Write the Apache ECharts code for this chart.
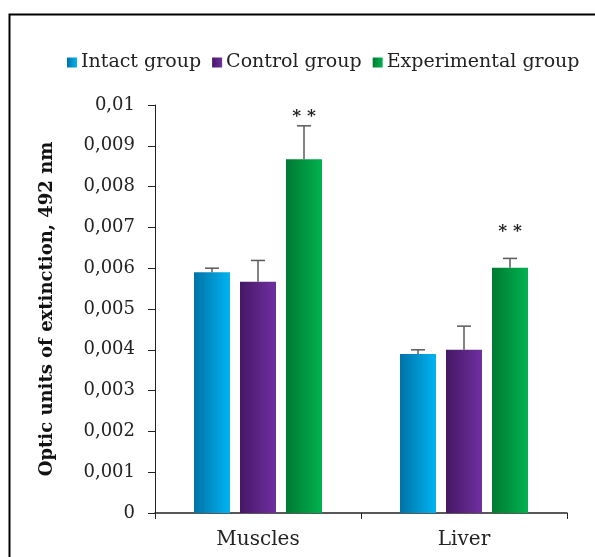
<!DOCTYPE html>
<html><head><meta charset="utf-8">
<script src="https://cdn.jsdelivr.net/npm/echarts@6/dist/echarts.min.js"></script>
<style>html,body{margin:0;padding:0;background:#fff}#c{width:595px;height:557px}</style>
</head><body><div id="c"></div>
<script>
const categories = ['Muscles', 'Liver'];
const seriesNames = ['Intact group', 'Control group', 'Experimental group'];
const intact = [0.0059, 0.0039];
const control = [0.00567, 0.004];
const experimental = [0.00867, 0.00601];
const intactErr = [0.0001, 0.0001];
const controlErr = [0.00052, 0.00058];
const experimentalErr = [0.00082, 0.00023];
const signifText = ['* *', '* *'];
const signifLevel = [0.00972, 0.0069];
const yTicks = ['0', '0,001', '0,002', '0,003', '0,004', '0,005', '0,006', '0,007', '0,008', '0,009', '0,01'];

const values = [intact, control, experimental];
const errs = [intactErr, controlErr, experimentalErr];
const gradients = [['#0072a6', '#00b4f2'], ['#461766', '#7030a0'], ['#007a33', '#00b24f']];
const font = '"DejaVu Serif", "Liberation Serif", serif';

const chart = echarts.init(document.getElementById('c'));
const barW = 36, gap = 10;
const series = [];
values.forEach((v, i) => {
  series.push({
    name: seriesNames[i], type: 'bar', data: v, barWidth: barW, barGap: (gap / barW * 100) + '%',
    itemStyle: {
      color: new echarts.graphic.LinearGradient(0, 0, 1, 0, [
        { offset: 0, color: gradients[i][0] }, { offset: 1, color: gradients[i][1] }])
    },
    z: 2
  });
});
values.forEach((v, i) => {
  series.push({
    type: 'custom', name: seriesNames[i] + ' err',
    data: v.map((val, j) => [j, val, val + errs[i][j]]),
    z: 3,
    renderItem: function (params, api) {
      const off = (i - 1) * (barW + gap);
      const base = api.coord([api.value(0), api.value(1)]);
      const top = api.coord([api.value(0), api.value(2)]);
      const x = base[0] + off;
      return { type: 'group', children: [
        { type: 'line', shape: { x1: x, y1: base[1], x2: x, y2: top[1] }, style: { stroke: '#5a5a5a', lineWidth: 1.5 } },
        { type: 'line', shape: { x1: x - 7, y1: top[1], x2: x + 7, y2: top[1] }, style: { stroke: '#5a5a5a', lineWidth: 1.5 } }
      ] };
    }
  });
});
series.push({
  type: 'custom', name: 'signif',
  data: signifLevel.map((lv, j) => [j, lv, signifText[j]]),
  z: 4,
  renderItem: function (params, api) {
    const p = api.coord([api.value(0), api.value(1)]);
    return { type: 'text', x: p[0] + (barW + gap), y: p[1],
      style: { text: api.value(2), fill: '#222', font: 'bold 17px ' + font, align: 'center', verticalAlign: 'middle' } };
  }
});

chart.setOption({
  animation: false,
  backgroundColor: '#fff',
  graphic: [{ type: 'rect', shape: { x: 9.5, y: 14.5, width: 700, height: 700 }, style: { fill: 'none', stroke: '#000', lineWidth: 2 }, z: 0 }],
  legend: {
    data: seriesNames, top: 48, left: 62, itemWidth: 10, itemHeight: 10, itemGap: 11,
    icon: 'rect',
    textStyle: { fontFamily: font, fontSize: 19, color: '#222', padding: [0, 0, 0, -1] }
  },
  grid: { left: 155, right: 28, top: 105, bottom: 44 },
  xAxis: {
    type: 'category', data: categories,
    axisLine: { lineStyle: { color: '#222', width: 1.5 } },
    axisTick: { show: true, length: 6, lineStyle: { color: '#222' } },
    axisLabel: { fontFamily: font, fontSize: 20, color: '#222', margin: 17 }
  },
  yAxis: {
    type: 'value', min: 0, max: 0.01, interval: 0.001,
    name: 'Optic units of extinction, 492 nm', nameLocation: 'middle', nameGap: 99,
    nameTextStyle: { fontFamily: font, fontSize: 18, fontWeight: 'bold', color: '#111' },
    axisLine: { show: true, lineStyle: { color: '#222', width: 1 } },
    axisTick: { show: true, length: 7, lineStyle: { color: '#222' } },
    splitLine: { show: false },
    axisLabel: { fontFamily: font, fontSize: 18, color: '#222', margin: 20, formatter: (v, idx) => yTicks[idx] }
  },
  series: series
});
</script></body></html>
